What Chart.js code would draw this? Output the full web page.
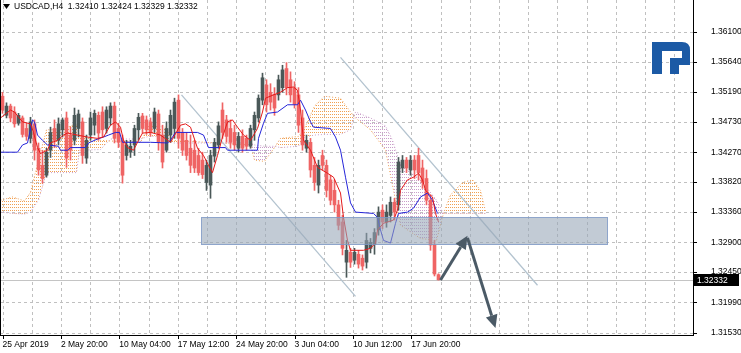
<!DOCTYPE html>
<html>
<head>
<meta charset="utf-8">
<script src="https://cdn.jsdelivr.net/npm/chart.js@4.4.1/dist/chart.umd.min.js"></script>
<style>
  html, body { margin: 0; padding: 0; background: #fff; }
  canvas { display: block; }
</style>
</head>
<body>
<canvas id="chart" width="741" height="353"></canvas>
<script>
/* global Chart */

// ---- data (H4 bars) ----
const symbol = 'USDCAD,H4';

const opens = [
  1.3512, 1.3483, 1.3497, 1.3488, 1.3471, 1.3479, 1.3463, 1.3448, 1.3470, 1.3433,
  1.3407, 1.3392, 1.3430, 1.3463, 1.3445, 1.3461, 1.3479, 1.3453, 1.3445, 1.3463,
  1.3473, 1.3418, 1.3453, 1.3468, 1.3483, 1.3488, 1.3463, 1.3479, 1.3497, 1.3463,
  1.3445, 1.3422, 1.3427, 1.3438, 1.3461, 1.3482, 1.3476, 1.3473, 1.3463, 1.3485,
  1.3453, 1.3430, 1.3453, 1.3463, 1.3506, 1.3457, 1.3445, 1.3433, 1.3430, 1.3422,
  1.3415, 1.3381, 1.3377, 1.3421, 1.3438, 1.3491, 1.3476, 1.3463, 1.3457, 1.3433,
  1.3451, 1.3448, 1.3436, 1.3461, 1.3479, 1.3506, 1.3529, 1.3518, 1.3515, 1.3514,
  1.3525, 1.3554, 1.3537, 1.3525, 1.3514, 1.3479, 1.3433, 1.3442, 1.3407, 1.3377,
  1.3422, 1.3407, 1.3385, 1.3369, 1.3347, 1.3321, 1.3260, 1.3275, 1.3263, 1.3272,
  1.3266, 1.3260, 1.3281, 1.3287, 1.3309, 1.3339, 1.3321, 1.3331, 1.3351, 1.3347,
  1.3403, 1.3415, 1.3400, 1.3415, 1.3422, 1.3403, 1.3387, 1.3354, 1.3286, 1.32410
];
const highs = [
  1.3518, 1.3502, 1.3500, 1.3496, 1.3486, 1.3482, 1.3471, 1.3480, 1.3476, 1.3441,
  1.3430, 1.3433, 1.3465, 1.3476, 1.3479, 1.3479, 1.3488, 1.3465, 1.3494, 1.3491,
  1.3479, 1.3453, 1.3488, 1.3491, 1.3488, 1.3496, 1.3496, 1.3502, 1.3503, 1.3471,
  1.3453, 1.3445, 1.3445, 1.3468, 1.3486, 1.3486, 1.3482, 1.3479, 1.3494, 1.3491,
  1.3468, 1.3473, 1.3491, 1.3509, 1.3514, 1.3463, 1.3457, 1.3453, 1.3445, 1.3433,
  1.3427, 1.3415, 1.3430, 1.3448, 1.3473, 1.3502, 1.3483, 1.3476, 1.3468, 1.3457,
  1.3461, 1.3453, 1.3468, 1.3488, 1.3514, 1.3547, 1.3537, 1.3531, 1.3525, 1.3544,
  1.3559, 1.3563, 1.3549, 1.3534, 1.3525, 1.3491, 1.3453, 1.3448, 1.3419, 1.3415,
  1.3430, 1.3415, 1.3392, 1.3385, 1.3354, 1.3331, 1.3293, 1.3281, 1.3281, 1.3278,
  1.3271, 1.3304, 1.3296, 1.3311, 1.3344, 1.3347, 1.3347, 1.3359, 1.3357, 1.3419,
  1.3422, 1.3419, 1.3422, 1.3422, 1.3433, 1.3415, 1.3400, 1.3362, 1.3293, 1.32424
];
const lows = [
  1.3486, 1.3479, 1.3473, 1.3465, 1.3468, 1.3450, 1.3445, 1.3441, 1.3415, 1.3392,
  1.3380, 1.3389, 1.3419, 1.3434, 1.3438, 1.3450, 1.3404, 1.3415, 1.3438, 1.3450,
  1.3410, 1.3410, 1.3445, 1.3453, 1.3445, 1.3450, 1.3456, 1.3468, 1.3441, 1.3434,
  1.3380, 1.3415, 1.3419, 1.3422, 1.3445, 1.3456, 1.3454, 1.3451, 1.3457, 1.3430,
  1.3403, 1.3427, 1.3442, 1.3448, 1.3433, 1.3422, 1.3415, 1.3396, 1.3396, 1.3392,
  1.3387, 1.3369, 1.3357, 1.3412, 1.3433, 1.3448, 1.3442, 1.3433, 1.3430, 1.3427,
  1.3427, 1.3430, 1.3433, 1.3445, 1.3473, 1.3499, 1.3488, 1.3491, 1.3483, 1.3506,
  1.3518, 1.3514, 1.3503, 1.3494, 1.3457, 1.3430, 1.3427, 1.3389, 1.3369, 1.3365,
  1.3400, 1.3359, 1.3347, 1.3336, 1.3309, 1.3271, 1.3237, 1.3252, 1.3257, 1.3251,
  1.3248, 1.3251, 1.3274, 1.3272, 1.3301, 1.3311, 1.3313, 1.3321, 1.3324, 1.3339,
  1.3396, 1.3396, 1.3392, 1.3387, 1.3385, 1.3372, 1.3347, 1.3278, 1.3239, 1.32329
];
const closes = [
  1.3491, 1.3497, 1.3479, 1.3470, 1.3483, 1.3454, 1.3451, 1.3473, 1.3430, 1.3400,
  1.3387, 1.3427, 1.3457, 1.3445, 1.3470, 1.3476, 1.3418, 1.3430, 1.3483, 1.3485,
  1.3422, 1.3445, 1.3479, 1.3486, 1.3456, 1.3461, 1.3491, 1.3497, 1.3448, 1.3442,
  1.3392, 1.3438, 1.3436, 1.3463, 1.3480, 1.3463, 1.3461, 1.3457, 1.3488, 1.3442,
  1.3412, 1.3463, 1.3483, 1.3503, 1.3448, 1.3430, 1.3422, 1.3407, 1.3403, 1.3396,
  1.3393, 1.3407, 1.3422, 1.3442, 1.3467, 1.3457, 1.3451, 1.3442, 1.3438, 1.3451,
  1.3433, 1.3436, 1.3463, 1.3483, 1.3509, 1.3540, 1.3499, 1.3503, 1.3494, 1.3537,
  1.3552, 1.3525, 1.3514, 1.3500, 1.3468, 1.3438, 1.3445, 1.3400, 1.3381, 1.3407,
  1.3407, 1.3369, 1.3354, 1.3347, 1.3316, 1.3281, 1.3278, 1.3260, 1.3275, 1.3257,
  1.3254, 1.3293, 1.3290, 1.3305, 1.3336, 1.3321, 1.3336, 1.3351, 1.3336, 1.3412,
  1.3415, 1.3403, 1.3415, 1.3400, 1.3396, 1.3381, 1.3354, 1.3286, 1.3242, 1.32332
];

// Tenkan-sen (red) : bar position / value
const tenkanBars = [-0.5, 2, 3, 5, 7, 7.75, 8.75, 9.5, 11.25, 12, 13.75, 15.25, 16.25, 18.75, 21.25, 23.75,
  25.25, 27, 28.25, 29.5, 30.25, 31.25, 32.75, 34, 35, 37, 39.5, 42, 44.5, 45.75, 47, 48.75, 50.25, 51.5,
  52.5, 53.75, 55, 56.25, 57.5, 58.75, 60.25, 62, 63.75, 65, 65.75, 67.75, 69.5, 71.25, 72.75, 73.75, 74.5,
  75.25, 77, 78.75, 81.25, 82.75, 84.5, 85.25, 86.25, 87, 90.25, 92, 93.25, 93.75, 95.25, 97.75, 98.75,
  99.5, 101.25, 102.75, 104, 105, 105.75, 107.5, 108.25, 109];
const tenkan = [1.3479, 1.3491, 1.3488, 1.3473, 1.3470, 1.3457, 1.3434, 1.3425, 1.3430, 1.3441, 1.3445,
  1.3453, 1.3456, 1.3453, 1.3450, 1.3448, 1.3450, 1.3468, 1.3473, 1.3465, 1.3445, 1.3434, 1.3430, 1.3445,
  1.3456, 1.3457, 1.3453, 1.3442, 1.3468, 1.3470, 1.3465, 1.3433, 1.3422, 1.3407, 1.3396, 1.3422, 1.3450,
  1.3473, 1.3476, 1.3465, 1.3453, 1.3445, 1.3463, 1.3488, 1.3509, 1.3514, 1.3518, 1.3525, 1.3526, 1.3521,
  1.3491, 1.3445, 1.3430, 1.3404, 1.3395, 1.3389, 1.3365, 1.3328, 1.3293, 1.3278, 1.3278, 1.3281, 1.3289,
  1.3309, 1.3319, 1.3324, 1.3339, 1.3369, 1.3385, 1.3389, 1.3395, 1.3385, 1.3369, 1.3359, 1.3334, 1.3321];

// Kijun-sen (blue)
const kijunBars = [-0.5, 3.75, 5, 6.25, 7.5, 8, 8.75, 10, 11.25, 14, 14.5, 16.25, 17, 20.75, 21.5, 23.75,
  25.25, 26.5, 28.25, 29.25, 30, 37, 41.25, 42, 42.5, 43.25, 48.75, 50.25, 51.5, 55.75, 56.25, 63.75, 64,
  65.25, 66.25, 68.75, 71.25, 73.75, 74.5, 75.75, 77, 77.75, 82, 83.25, 84.5, 85.75, 87, 88.25, 92.75,
  93.75, 94.5, 95.25, 97, 98.25, 99, 101.25, 102.75, 104.5, 106.25, 107.5, 108.75];
const kijun = [1.3427, 1.3427, 1.3438, 1.3441, 1.3476, 1.3473, 1.3453, 1.3445, 1.3438, 1.3436, 1.3430,
  1.3430, 1.3434, 1.3434, 1.3441, 1.3447, 1.3450, 1.3453, 1.3457, 1.3457, 1.3442, 1.3442, 1.3441, 1.3445,
  1.3450, 1.3457, 1.3457, 1.3453, 1.3434, 1.3434, 1.3430, 1.3430, 1.3448, 1.3471, 1.3486, 1.3488, 1.3499,
  1.3499, 1.3506, 1.3491, 1.3473, 1.3465, 1.3463, 1.3450, 1.3430, 1.3389, 1.3350, 1.3336, 1.3334, 1.3328,
  1.3309, 1.3293, 1.3289, 1.3319, 1.3334, 1.3336, 1.3342, 1.3359, 1.3365, 1.3354, 1.3334];

// Ichimoku cloud: Senkou Span A / B (shifted forward)
const cloudBars = [-0.5, 2.5, 5.5, 7, 9, 11, 14.5, 18.5, 19.25, 24.5, 27, 34.5, 36.5, 40.75, 42.5, 62, 63,
  65.5, 68, 69.5, 74, 75.5, 78, 80.5, 84.5, 87, 88.25, 92, 95.75, 97.5, 99.5, 104.5, 108.5, 110.25, 112,
  115, 117.5, 119.5, 120.75];
const spanA = [1.3354, 1.3359, 1.3353, 1.3366, 1.3415, 1.3461, 1.3461, 1.3470, 1.3451, 1.3445, 1.3444,
  1.3442, 1.3467, 1.3465, 1.3445, 1.3438, 1.3415, 1.3413, 1.3434, 1.3448, 1.3451, 1.3463, 1.3497, 1.3512,
  1.3509, 1.3488, 1.3479, 1.3461, 1.3430, 1.3377, 1.3316, 1.3296, 1.3293, 1.3334, 1.3362, 1.3381, 1.3385,
  1.3369, 1.3337];
const spanB = [1.3336, 1.3334, 1.3333, 1.3336, 1.3354, 1.3396, 1.3396, 1.3396, 1.3430, 1.3431, 1.3447,
  1.3447, 1.3451, 1.3451, 1.3441, 1.3441, 1.3438, 1.3436, 1.3436, 1.3434, 1.3436, 1.3450, 1.3453, 1.3454,
  1.3454, 1.3461, 1.3488, 1.3479, 1.3467, 1.3445, 1.3407, 1.3385, 1.3354, 1.3334, 1.3334, 1.3334, 1.3334,
  1.3334, 1.3334];

// drawn objects: channel, support zone, forecast arrows
const channelLowBars = [44.75, 88.25];
const channelLow = [1.3514, 1.3208];
const channelHighBars = [84.5, 133.75];
const channelHigh = [1.3571, 1.3225];
const zoneBars = [49.5, 151.25];
const zonePrices = [1.3286, 1.3328];
const arrowBars = [109.5, 116.25, 123.25];
const arrowPrices = [1.3233, 1.3300, 1.3160];

// axis labels
const priceTicks = [1.31530, 1.31990, 1.32450, 1.32900, 1.33360, 1.33820, 1.34270, 1.34730, 1.35190, 1.35640, 1.36100];
const timeLabels = ['25 Apr 2019', '2 May 20:00', '10 May 04:00', '17 May 12:00', '24 May 20:00', '3 Jun 04:00', '10 Jun 12:00', '17 Jun 20:00'];
const timeBars = [0, 14.6, 29.2, 43.8, 58.4, 73, 87.6, 102.2];


// ---- styles ----
const FONT = 'Liberation Sans, Arial, sans-serif';
const bullColor = '#4a5858';
const bearColor = '#ef6464';
const orange = '#f0a052';
const thistle = '#c99ec9';
const gridColor = '#c0c0c0';

// MT4 style hatch: columns of single dots
function dotPattern(color) {
  const c = document.createElement('canvas');
  c.width = 2;
  c.height = 3;
  const g = c.getContext('2d');
  g.fillStyle = color;
  g.fillRect(0, 0, 1, 1);
  return g.createPattern(c, 'repeat');
}

const pts = (xs, ys) => xs.map((x, i) => ({ x: x, y: ys[i] }));
const isBull = i => closes[i] >= opens[i];

function labelFor(v) {
  const i = timeBars.findIndex(t => Math.abs(t - v) < 0.01);
  return i >= 0 ? timeLabels[i] : '';
}

// keep the plot area flush with the canvas edges
function noPadding(s) {
  s.paddingLeft = 0;
  s.paddingRight = 0;
  s.paddingTop = 0;
  s.paddingBottom = 0;
}

const lineBase = { type: 'line', pointRadius: 0, borderWidth: 1, tension: 0, fill: false };


// ---- extra drawing: grid, zone, arrows, title, logo, price tag ----
function drawArrow(ctx, x1, y1, x2, y2) {
  const ang = Math.atan2(y2 - y1, x2 - x1);
  const len = 13, half = 6;
  const bx = x2 - Math.cos(ang) * len, by = y2 - Math.sin(ang) * len;
  ctx.beginPath();
  ctx.moveTo(x1, y1);
  ctx.lineTo(bx, by);
  ctx.stroke();
  ctx.beginPath();
  ctx.moveTo(x2, y2);
  ctx.lineTo(bx + Math.sin(ang) * half, by - Math.cos(ang) * half);
  ctx.lineTo(bx - Math.sin(ang) * half, by + Math.cos(ang) * half);
  ctx.closePath();
  ctx.fill();
}

const overlay = {
  id: 'overlay',
  beforeDatasetsDraw(chart) {
    const { ctx, chartArea: a, scales: { x, y } } = chart;
    ctx.save();
    ctx.lineWidth = 1;

    // dashed grid from the scales' ticks
    ctx.strokeStyle = gridColor;
    ctx.setLineDash([3, 3]);
    ctx.beginPath();
    x.ticks.forEach(t => {
      const px = Math.round(x.getPixelForValue(t.value)) + 0.5;
      ctx.moveTo(px, a.top);
      ctx.lineTo(px, a.bottom);
    });
    y.ticks.forEach(t => {
      const py = Math.round(y.getPixelForValue(t.value)) + 0.5;
      ctx.moveTo(a.left, py);
      ctx.lineTo(a.right, py);
    });
    ctx.stroke();
    ctx.setLineDash([]);

    // tick marks outside the frame
    ctx.strokeStyle = '#000';
    ctx.beginPath();
    x.ticks.forEach(t => {
      if (!labelFor(t.value)) return;
      const px = Math.round(x.getPixelForValue(t.value)) + 0.5;
      ctx.moveTo(px, a.bottom);
      ctx.lineTo(px, a.bottom + 4);
    });
    y.ticks.forEach(t => {
      const py = Math.round(y.getPixelForValue(t.value)) + 0.5;
      ctx.moveTo(a.right, py);
      ctx.lineTo(a.right + 4, py);
    });
    ctx.stroke();

    // bid line
    const py = Math.round(y.getPixelForValue(closes[closes.length - 1])) + 0.5;
    ctx.strokeStyle = '#c4c4c4';
    ctx.beginPath();
    ctx.moveTo(a.left, py);
    ctx.lineTo(a.right, py);
    ctx.stroke();
    ctx.restore();
  },
  afterDatasetsDraw(chart) {
    const { ctx, scales: { x, y } } = chart;
    ctx.save();
    // support zone
    const zx0 = Math.round(x.getPixelForValue(zoneBars[0]));
    const zx1 = Math.round(x.getPixelForValue(zoneBars[1]));
    const zy0 = Math.round(y.getPixelForValue(zonePrices[1]));
    const zy1 = Math.round(y.getPixelForValue(zonePrices[0]));
    ctx.fillStyle = 'rgba(150,165,182,0.58)';
    ctx.fillRect(zx0, zy0, zx1 - zx0, zy1 - zy0);
    ctx.strokeStyle = 'rgba(120,150,200,0.7)';
    ctx.lineWidth = 1;
    ctx.strokeRect(zx0 + 0.5, zy0 + 0.5, zx1 - zx0 - 1, zy1 - zy0 - 1);

    // forecast arrows
    ctx.strokeStyle = '#4b5a66';
    ctx.fillStyle = '#4b5a66';
    ctx.lineWidth = 3;
    const ap = arrowBars.map((b, i) => [x.getPixelForValue(b), y.getPixelForValue(arrowPrices[i])]);
    drawArrow(ctx, ap[0][0], ap[0][1], ap[1][0], ap[1][1]);
    drawArrow(ctx, ap[1][0], ap[1][1] + 2, ap[2][0], ap[2][1]);
    ctx.restore();
  },
  afterDraw(chart) {
    const { ctx, chartArea: a, scales: { y } } = chart;
    ctx.save();
    // left frame line
    ctx.fillStyle = '#000';
    ctx.fillRect(a.left, a.top, 1, a.bottom - a.top);

    // title
    const n = closes.length - 1;
    ctx.beginPath();
    ctx.moveTo(3, 4);
    ctx.lineTo(10, 4);
    ctx.lineTo(6.5, 9);
    ctx.closePath();
    ctx.fill();
    ctx.font = '8.5px ' + FONT;
    ctx.textBaseline = 'middle';
    ctx.fillText(symbol + '  ' + [opens[n], highs[n], lows[n], closes[n]].map(v => v.toFixed(5)).join(' '), 14, 7);

    // logo
    const ox = 652, oy = 42;
    ctx.fillStyle = '#1c5aa5';
    ctx.fillRect(ox, oy, 10, 32);
    ctx.beginPath();
    ctx.moveTo(ox, oy);
    ctx.lineTo(ox + 30, oy);
    ctx.quadraticCurveTo(ox + 38, oy, ox + 38, oy + 8);
    ctx.lineTo(ox + 38, oy + 23);
    ctx.lineTo(ox + 18, oy + 23);
    ctx.lineTo(ox + 18, oy + 32);
    ctx.lineTo(ox + 27, oy + 32);
    ctx.lineTo(ox + 27, oy + 16);
    ctx.lineTo(ox + 30, oy + 16);
    ctx.lineTo(ox + 30, oy + 9);
    ctx.lineTo(ox, oy + 9);
    ctx.closePath();
    ctx.fill();
    ctx.fillRect(ox + 18, oy + 16, 20, 7);

    // last price tag
    const py = Math.round(y.getPixelForValue(closes[n]));
    ctx.fillStyle = '#000';
    ctx.fillRect(a.right + 1, py - 6, 45, 12);
    ctx.fillStyle = '#fff';
    ctx.fillText(closes[n].toFixed(5), a.right + 4, py + 0.5);
    ctx.restore();
  }
};


// ---- chart ----
const ctx = document.getElementById('chart').getContext('2d');

// eslint-disable-next-line no-unused-vars
const chart = new Chart(ctx, {
  type: 'line',
  data: {
    datasets: [
      // cloud
      Object.assign({}, lineBase, {
        data: pts(cloudBars, spanA),
        borderColor: orange,
        borderDash: [1, 2],
        order: 20,
      }),
      Object.assign({}, lineBase, {
        data: pts(cloudBars, spanB),
        borderColor: thistle,
        borderDash: [1, 2],
        fill: { target: '-1', above: dotPattern(thistle), below: dotPattern(orange) },
        order: 19,
      }),
      // channel
      Object.assign({}, lineBase, { data: pts(channelLowBars, channelLow), borderColor: '#b3c3cf', borderWidth: 1.3, order: 15 }),
      Object.assign({}, lineBase, { data: pts(channelHighBars, channelHigh), borderColor: '#b3c3cf', borderWidth: 1.3, order: 15 }),
      // candles: wicks then bodies
      {
        type: 'bar',
        data: opens.map((o, i) => ({ x: i, y: [lows[i], highs[i]] })),
        backgroundColor: c => isBull(c.dataIndex) ? bullColor : bearColor,
        barThickness: 1,
        grouped: false,
        borderWidth: 0,
        order: 10,
      },
      {
        type: 'bar',
        data: opens.map((o, i) => ({ x: i, y: [o, closes[i]] })),
        backgroundColor: c => isBull(c.dataIndex) ? bullColor : bearColor,
        barThickness: 3,
        grouped: false,
        borderWidth: 0,
        minBarLength: 1,
        order: 9,
      },
      // Ichimoku lines
      Object.assign({}, lineBase, { data: pts(kijunBars, kijun), borderColor: '#2424d8', order: 2 }),
      Object.assign({}, lineBase, { data: pts(tenkanBars, tenkan), borderColor: '#e41a1a', order: 1 }),
    ]
  },
  options: {
    responsive: false,
    animation: false,
    events: [],
    layout: { padding: 0, autoPadding: false },
    plugins: {
      legend: { display: false },
      tooltip: { enabled: false },
    },
    scales: {
      x: {
        type: 'linear',
        min: -0.625,
        max: 172.625,
        offset: false,
        afterBuildTicks: s => {
          const step = (timeBars[1] - timeBars[0]) / 2;
          const ticks = [];
          for (let i = 0; timeBars[0] + i * step <= s.max; i++) {
            ticks.push({ value: Math.round((timeBars[0] + i * step) * 1000) / 1000 });
          }
          s.ticks = ticks;
        },
        afterFit: s => { s.height = 18; noPadding(s); },
        ticks: {
          autoSkip: false,
          maxRotation: 0,
          align: 'start',
          padding: 1,
          color: '#000',
          font: { family: FONT, size: 8.5 },
          callback: v => labelFor(v),
        },
        grid: { display: false, tickLength: 4 },
        border: { display: true, color: '#000' },
      },
      y: {
        position: 'right',
        min: 1.31494,
        max: 1.36581,
        afterBuildTicks: s => { s.ticks = priceTicks.map(v => ({ value: v })); },
        afterFit: s => { s.width = 48; noPadding(s); },
        ticks: {
          color: '#000',
          padding: 10,
          font: { family: FONT, size: 8.5 },
          callback: v => v.toFixed(5),
        },
        grid: { display: false },
        border: { display: true, color: '#000' },
      }
    }
  },
  plugins: [overlay]
});
</script>
</body>
</html>
